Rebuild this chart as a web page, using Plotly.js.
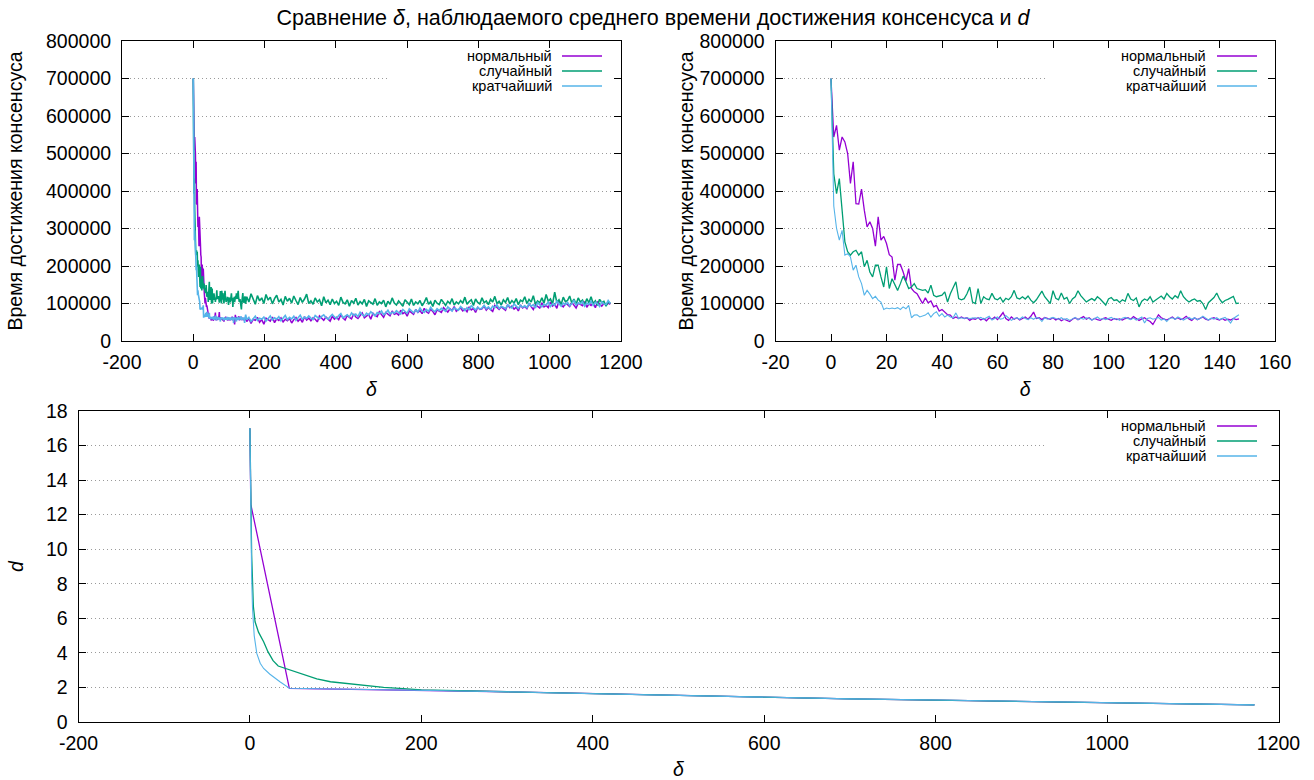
<!DOCTYPE html>
<html>
<head>
<meta charset="utf-8">
<script src="https://cdn.plot.ly/plotly-3.0.1.min.js"></script>
<style>
html,body{margin:0;padding:0;background:#fff;}
#chart{width:1314px;height:780px;}
</style>
</head>
<body>
<div id="chart"></div>
<script>
// ---------------- DATA ----------------
const seriesNames = ['нормальный', 'случайный', 'кратчайший'];
const seriesColors = ['#9400d3', '#009e73', '#56b4e9'];

const chartTitle = 'Сравнение <i>δ</i>, наблюдаемого среднего времени достижения консенсуса и <i>d</i>';
const timeAxisTitle = 'Время достижения консенсуса';
const deltaAxisTitle = '<i>δ</i>';
const dAxisTitle = '<i>d</i>';

// Mean consensus time (thousands) for δ = 0..147, step 1
const timeDenseNormalK = [
  700, 544, 575, 509, 544, 531, 500, 420, 478, 366, 365, 405, 349, 304, 318, 300, 253, 331, 269, 279,
  260, 230, 224, 162, 204, 204, 184, 160, 193, 140, 131, 126, 113, 100, 115, 102, 107, 91, 95, 80,
  84, 78, 70, 69, 60, 64, 60, 64, 60, 62, 55, 60,
  58, 62, 56, 60, 54, 62, 58, 64, 57, 66,
  76, 60, 55, 64, 58, 62, 56, 60, 64, 58,
  66, 77, 60, 62, 57, 63, 60, 58, 62, 56,
  60, 54, 58, 55, 52, 58, 62, 57, 60, 65,
  58, 62, 56, 60, 57, 55, 60, 62, 58, 55,
  60, 57, 59, 56, 60, 62, 58, 65, 60, 55,
  59, 62, 56, 52, 44, 58, 70, 62, 58, 56,
  60, 64, 58, 62, 57, 60, 66, 59, 55, 62,
  57, 60, 64, 58, 56, 60, 62, 58, 56, 60,
  55, 58, 56, 60, 57, 59
];
const timeDenseRandomK = [
  700, 446, 393, 433, 349, 264, 238, 229, 238, 242, 229, 238, 198, 215, 184, 171, 202, 202, 171, 144,
  198, 140, 166, 149, 135, 153, 173, 158, 140, 144, 153, 140, 137, 135, 137, 128, 149, 122, 118, 121,
  122, 131, 104, 126, 140, 158, 113, 110, 113, 126, 144, 104,
  100, 140, 100, 118, 112, 110, 127, 113, 110, 116,
  104, 114, 110, 118, 135, 115, 112, 118, 112, 120,
  109, 102, 110, 120, 133, 118, 110, 100, 134, 114,
  110, 128, 112, 116, 100, 112, 118, 134, 121, 112,
  104, 109, 113, 108, 118, 112, 104, 96, 112, 116,
  108, 110, 103, 110, 106, 127, 112, 108, 115, 91,
  106, 112, 108, 118, 104, 110, 116, 120, 112, 127,
  118, 112, 121, 115, 134, 118, 110, 104, 109, 112,
  106, 108, 100, 84, 102, 110, 116, 128, 112, 102,
  108, 111, 114, 119, 100, 101
];
const timeDenseShortestK = [
  700, 360, 300, 269, 295, 229, 233, 224, 189, 202, 171, 153, 122, 135, 125, 113, 119, 109, 104, 84,
  88, 86, 88, 86, 89, 84, 91, 86, 95, 62, 69, 70, 64, 66, 69, 75, 64, 73, 78, 66,
  73, 64, 69, 64, 62, 75, 60, 62, 60, 62, 60, 61,
  62, 60, 63, 58, 62, 66, 56, 60, 64, 58,
  60, 68, 62, 55, 60, 62, 58, 64, 60, 57,
  62, 58, 63, 60, 52, 62, 58, 60, 63, 60,
  58, 62, 57, 60, 55, 59, 63, 57, 61, 58,
  62, 60, 56, 60, 64, 58, 60, 57, 61, 63,
  58, 60, 55, 61, 63, 60, 57, 61, 56, 60,
  64, 48, 60, 62, 58, 60, 63, 56, 59, 52,
  60, 62, 58, 64, 61, 56, 60, 63, 58, 62,
  57, 60, 66, 60, 56, 61, 58, 62, 57, 60,
  63, 56, 48, 60, 64, 70
];
const denseCount = 148;      // δ = 0 .. 147
const sparseStart = 150, sparseStep = 6, sparseCount = 171;   // δ = 150 .. 1170

// Mean consensus time (thousands) for δ = 150..1170, every 6th δ
const timeSparseNormalK = [
  52, 60, 47, 58, 55, 63, 50, 57, 45, 61,
  56, 53, 64, 49, 59, 55, 62, 51, 58, 54,
  60, 48, 57, 63, 53, 59, 50, 65, 56, 61,
  54, 62, 58, 51, 67, 60, 55, 64, 59, 53,
  66, 58, 63, 57, 70, 61, 56, 68, 63, 59,
  72, 64, 60, 69, 75, 62, 67, 71, 58, 74,
  68, 65, 78, 70, 63, 76, 72, 67, 80, 71,
  74, 69, 82, 73, 77, 66, 80, 75, 71, 84,
  76, 81, 73, 87, 78, 74, 85, 79, 70, 83,
  80, 76, 89, 82, 77, 86, 81, 92, 79, 84,
  88, 80, 85, 78, 91, 83, 87, 76, 90, 84,
  86, 93, 82, 89, 85, 79, 95, 88, 84, 91,
  87, 82, 97, 89, 93, 85, 90, 80, 96, 88,
  92, 86, 99, 90, 84, 97, 93, 88, 102, 91,
  95, 89, 104, 93, 98, 87, 108, 96, 91, 100,
  97, 92, 103, 95, 88, 101, 98, 94, 105, 90,
  99, 95, 102, 89, 104, 97, 93, 100, 96, 101,
  98
];
const timeSparseRandomK = [
  118, 104, 126, 110, 98, 121, 107, 115, 100, 124,
  109, 117, 99, 113, 122, 104, 111, 96, 119, 106,
  114, 101, 120, 108, 97, 116, 103, 112, 125, 100,
  107, 98, 115, 104, 110, 94, 118, 102, 109, 97,
  112, 100, 106, 95, 117, 103, 99, 110, 93, 108,
  101, 114, 96, 105, 99, 111, 92, 107, 102, 98,
  113, 95, 104, 100, 109, 91, 106, 98, 115, 101,
  96, 107, 100, 93, 110, 102, 97, 112, 95, 104,
  99, 108, 94, 103, 116, 98, 105, 92, 109, 101,
  97, 111, 103, 95, 106, 100, 113, 96, 104, 99,
  108, 101, 117, 98, 105, 110, 95, 112, 103, 99,
  115, 102, 107, 97, 111, 104, 119, 100, 106, 96,
  110, 103, 116, 99, 108, 101, 113, 97, 109, 105,
  118, 100, 111, 104, 121, 98, 107, 102, 115, 101,
  124, 106, 112, 99, 130, 103, 110, 97, 117, 105,
  108, 120, 101, 112, 98, 115, 104, 109, 96, 113,
  102, 118, 99, 107, 95, 111, 103, 106, 93, 104,
  101
];
const timeSparseShortestK = [
  57, 63, 52, 60, 66, 55, 61, 58, 64, 53,
  60, 67, 56, 62, 58, 65, 54, 61, 68, 57,
  63, 59, 66, 55, 62, 69, 58, 64, 60, 67,
  61, 57, 68, 63, 59, 66, 70, 62, 58, 65,
  71, 64, 60, 68, 73, 62, 67, 70, 64, 75,
  68, 72, 65, 77, 70, 66, 74, 69, 78, 71,
  67, 76, 73, 80, 70, 75, 82, 72, 77, 74,
  81, 76, 72, 84, 78, 74, 86, 79, 75, 83,
  77, 88, 80, 76, 84, 79, 90, 82, 78, 86,
  81, 87, 83, 79, 91, 84, 80, 88, 85, 82,
  92, 86, 81, 89, 84, 94, 87, 83, 90, 85,
  88, 95, 86, 91, 84, 93, 89, 97, 87, 92,
  90, 86, 96, 91, 88, 99, 92, 87, 95, 90,
  94, 89, 100, 93, 97, 88, 102, 95, 91, 98,
  96, 104, 92, 99, 95, 106, 98, 93, 101, 97,
  103, 94, 100, 108, 96, 102, 99, 105, 93, 101,
  98, 106, 95, 103, 100, 92, 104, 99, 97, 108,
  100
];

// d versus δ
const dNormalDelta   = [0, 1, 46, 100, 150, 200, 300, 362, 400, 500, 600, 700, 800, 900, 1000, 1100, 1172];
const dNormal        = [17, 12.6, 1.95, 1.91, 1.88, 1.85, 1.75, 1.68, 1.64, 1.54, 1.42, 1.34, 1.27, 1.20, 1.13, 1.06, 0.99];
const dRandomDelta   = [0, 1, 2, 4, 6, 10, 16, 21, 27, 33, 47, 62, 78, 94, 109, 133, 156, 179, 200, 300, 362, 400, 500, 600, 700, 800, 900, 1000, 1100, 1172];
const dRandom        = [17, 11.2, 9.7, 6.7, 5.8, 5.2, 4.65, 4.07, 3.55, 3.24, 3.0, 2.72, 2.49, 2.33, 2.24, 2.1, 2.0, 1.93, 1.86, 1.75, 1.68, 1.64, 1.54, 1.42, 1.34, 1.27, 1.20, 1.13, 1.06, 0.99];
const dShortestDelta = [0, 1, 2, 3, 5, 8, 12, 16, 23, 35, 46, 100, 150, 200, 300, 362, 400, 500, 600, 700, 800, 900, 1000, 1100, 1172];
const dShortest      = [17, 11.0, 8.4, 6.6, 5.0, 3.97, 3.4, 3.1, 2.78, 2.33, 1.95, 1.91, 1.88, 1.85, 1.75, 1.68, 1.64, 1.54, 1.42, 1.34, 1.27, 1.20, 1.13, 1.06, 0.99];

// tick labels
const wideDeltaTicks = [-200, 0, 200, 400, 600, 800, 1000, 1200];
const wideDeltaLabels = ['-200', '0', '200', '400', '600', '800', '1000', '1200'];
const zoomDeltaTicks = [-20, 0, 20, 40, 60, 80, 100, 120, 140, 160];
const zoomDeltaLabels = ['-20', '0', '20', '40', '60', '80', '100', '120', '140', '160'];
const timeTicks = [0, 100000, 200000, 300000, 400000, 500000, 600000, 700000, 800000];
const timeLabels = ['0', '100000', '200000', '300000', '400000', '500000', '600000', '700000', '800000'];
const dTicks = [0, 2, 4, 6, 8, 10, 12, 14, 16, 18];
const dLabels = ['0', '2', '4', '6', '8', '10', '12', '14', '16', '18'];

// ---------------- BUILD ----------------
function check(a, n, name) { if (a.length !== n) throw new Error(name + ' has ' + a.length + ' values, expected ' + n); }
check(timeDenseNormalK, denseCount, 'timeDenseNormalK');
check(timeDenseRandomK, denseCount, 'timeDenseRandomK');
check(timeDenseShortestK, denseCount, 'timeDenseShortestK');
check(timeSparseNormalK, sparseCount, 'timeSparseNormalK');
check(timeSparseRandomK, sparseCount, 'timeSparseRandomK');
check(timeSparseShortestK, sparseCount, 'timeSparseShortestK');
check(dNormal, dNormalDelta.length, 'dNormal');
check(dRandom, dRandomDelta.length, 'dRandom');
check(dShortest, dShortestDelta.length, 'dShortest');

const deltaDense = Array.from({length: denseCount}, (_, i) => i);
const deltaSparse = Array.from({length: sparseCount}, (_, i) => sparseStart + sparseStep * i);
const toUnits = k => k * 1000;

const denseK = [timeDenseNormalK, timeDenseRandomK, timeDenseShortestK];
const sparseK = [timeSparseNormalK, timeSparseRandomK, timeSparseShortestK];
const dX = [dNormalDelta, dRandomDelta, dShortestDelta];
const dY = [dNormal, dRandom, dShortest];
const widths = [1.3, 1.3, 1.1];
const wideWidths = [1.5, 1.6, 1.6];

const W = 1314, H = 780;
const FONT = '"Liberation Sans", Arial, Helvetica, sans-serif';
const fx = px => px / W;
const fy = py => 1 - py / H;

const boxes = {
  tl: {l: 122, r: 621, t: 41, b: 341},
  tr: {l: 775.5, r: 1275, t: 41, b: 341},
  bt: {l: 78.5, r: 1278.5, t: 411, b: 722}
};

const traces = [];
for (let s = 0; s < 3; s++) {
  traces.push({
    type: 'scatter', mode: 'lines', name: seriesNames[s], showlegend: false,
    x: deltaDense.concat(deltaSparse),
    y: denseK[s].concat(sparseK[s]).map(toUnits),
    xaxis: 'x', yaxis: 'y',
    line: {color: seriesColors[s], width: wideWidths[s]}
  });
}
for (let s = 0; s < 3; s++) {
  traces.push({
    type: 'scatter', mode: 'lines', name: seriesNames[s], showlegend: false,
    x: deltaDense, y: denseK[s].map(toUnits),
    xaxis: 'x2', yaxis: 'y2',
    line: {color: seriesColors[s], width: widths[s]}
  });
}
for (let s = 0; s < 3; s++) {
  traces.push({
    type: 'scatter', mode: 'lines', name: seriesNames[s], showlegend: false,
    x: dX[s], y: dY[s],
    xaxis: 'x3', yaxis: 'y3',
    line: {color: seriesColors[s], width: widths[s]}
  });
}

const tickFont = {family: FONT, size: 19.5, color: '#000'};
const titleFont = {family: FONT, size: 19.5, color: '#000'};
function xAxis(box, ticks, labels, range, anchor) {
  return {
    domain: [fx(box.l), fx(box.r)], anchor: anchor, range: range,
    tickmode: 'array', tickvals: ticks, ticktext: labels,
    showline: true, linecolor: '#000', linewidth: 1, mirror: 'ticks',
    ticks: 'inside', ticklen: 7, tickwidth: 1, tickcolor: '#000',
    showgrid: false, zeroline: false, tickfont: tickFont, ticklabelstandoff: 4,
    title: {text: deltaAxisTitle, font: titleFont, standoff: 9},
    fixedrange: true
  };
}
function yAxis(box, ticks, labels, range, anchor, title, standoff) {
  return {
    domain: [fy(box.b), fy(box.t)], anchor: anchor, range: range,
    tickmode: 'array', tickvals: ticks, ticktext: labels,
    showline: true, linecolor: '#000', linewidth: 1, mirror: 'ticks',
    ticks: 'inside', ticklen: 7, tickwidth: 1, tickcolor: '#000',
    showgrid: true, gridcolor: '#9a9a9a', griddash: '1px,3px', gridwidth: 1,
    zeroline: false, tickfont: tickFont, ticklabelstandoff: 6,
    title: {text: title, font: titleFont, standoff: standoff},
    fixedrange: true
  };
}

// gnuplot-style keys: text right-aligned, sample line on the right, opaque key area
const keys = [
  {box: boxes.tl, textRight: 554, lineL: 562, lineR: 602, rows: [56, 71, 86], bgL: 390, bgB: 97},
  {box: boxes.tr, textRight: 1208, lineL: 1217, lineR: 1257, rows: [56, 71, 86], bgL: 1045, bgB: 97},
  {box: boxes.bt, textRight: 1208, lineL: 1217, lineR: 1257, rows: [426, 441, 456], bgL: 1045, bgB: 466}
];
const shapes = [];
const annotations = [];
keys.forEach(k => {
  shapes.push({
    type: 'rect', xref: 'paper', yref: 'paper', layer: 'above',
    x0: fx(k.bgL), x1: fx(k.box.r - 8.5), y0: fy(k.bgB), y1: fy(k.box.t + 8.5),
    fillcolor: '#ffffff', line: {width: 0}
  });
});
keys.forEach(k => {
  for (let s = 0; s < 3; s++) {
    annotations.push({
      xref: 'paper', yref: 'paper', x: fx(k.textRight), y: fy(k.rows[s]),
      xanchor: 'right', yanchor: 'middle', showarrow: false,
      text: seriesNames[s], font: {family: FONT, size: 14.5, color: '#000'}
    });
    shapes.push({
      type: 'line', xref: 'paper', yref: 'paper', layer: 'above',
      x0: fx(k.lineL), x1: fx(k.lineR), y0: fy(k.rows[s]), y1: fy(k.rows[s]),
      line: {color: seriesColors[s], width: widths[s] + 0.2}
    });
  }
});

const layout = {
  width: W, height: H,
  margin: {l: 0, r: 0, t: 0, b: 0, autoexpand: false},
  paper_bgcolor: '#fff', plot_bgcolor: '#fff',
  showlegend: false, hovermode: false,
  font: {family: FONT, color: '#000'},
  title: {text: chartTitle, font: {family: FONT, size: 21.5, color: '#000'},
          x: 0.497, xanchor: 'center', xref: 'paper', y: fy(17.5), yanchor: 'middle', yref: 'container'},
  xaxis: xAxis(boxes.tl, wideDeltaTicks, wideDeltaLabels, [-200, 1200], 'y'),
  yaxis: yAxis(boxes.tl, timeTicks, timeLabels, [0, 800000], 'x', timeAxisTitle, 18),
  xaxis2: xAxis(boxes.tr, zoomDeltaTicks, zoomDeltaLabels, [-20, 160], 'y2'),
  yaxis2: yAxis(boxes.tr, timeTicks, timeLabels, [0, 800000], 'x2', timeAxisTitle, 0),
  xaxis3: xAxis(boxes.bt, wideDeltaTicks, wideDeltaLabels, [-200, 1200], 'y3'),
  yaxis3: yAxis(boxes.bt, dTicks, dLabels, [0, 18], 'x3', dAxisTitle, 17),
  shapes: shapes,
  annotations: annotations
};

Plotly.newPlot('chart', traces, layout, {staticPlot: true, displayModeBar: false});
</script>
</body>
</html>
